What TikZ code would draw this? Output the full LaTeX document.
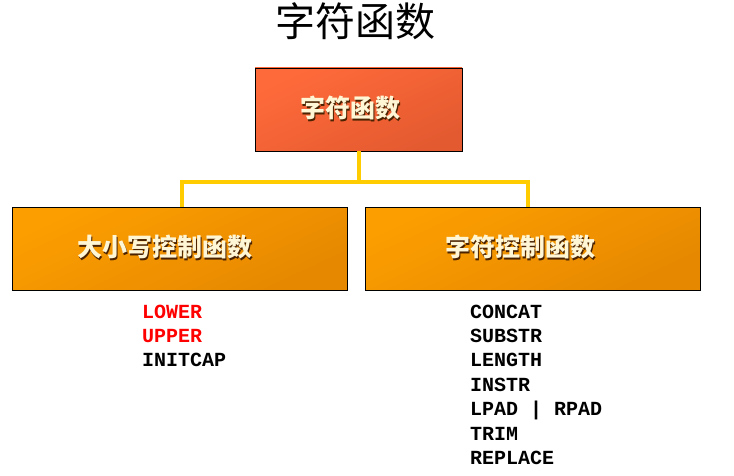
\documentclass[tikz,border=0pt]{standalone}
\usepackage{fontspec}
\setmonofont{Liberation Mono}
\newfontfamily\cjk{Noto Sans CJK SC}
\usetikzlibrary{positioning}

\definecolor{redtop}{HTML}{FF6A3A}
\definecolor{redbot}{HTML}{E45A30}
\definecolor{orangetop}{HTML}{FC9E00}
\definecolor{orangebot}{HTML}{E68800}
\definecolor{busyellow}{HTML}{FFCC00}
\definecolor{cream}{HTML}{FFF6D6}
\definecolor{shadowbrown}{HTML}{4A2200}

\newcommand{\embossed}[1]{\makebox[0pt][l]{\hspace{1.3pt}\raisebox{-1.3pt}{\color{shadowbrown}#1}}{\color{cream}#1}}

\tikzset{
  fnbox/.style={draw=black, line width=0.8pt, minimum height=83pt, inner sep=0pt},
  headbox/.style={fnbox, top color=redtop, bottom color=redbot, shading angle=25, minimum width=207pt},
  groupbox/.style={fnbox, top color=orangetop, bottom color=orangebot, shading angle=25, minimum width=335pt},
  boxtext/.style={font=\cjk\bfseries\fontsize{25}{28}\selectfont, inner sep=0pt},
  link/.style={draw=busyellow, line width=4pt},
  fnlist/.style={anchor=north west, align=left, inner sep=0pt,
    font=\ttfamily\bfseries\fontsize{20}{24.4}\selectfont}
}

\begin{document}
\begin{tikzpicture}[x=1pt, y=-1pt]
  \useasboundingbox (0,0) rectangle (734,476);

  \node[font=\cjk\fontsize{40}{44}\selectfont, inner sep=0pt] (title) at (355,21) {字符函数};

  % boxes
  \node[headbox] (top) at (358.5,109.5) {};
  \node[groupbox] (lower) at (180,249) {};
  \node[groupbox] (upper) at (532.5,249) {};
  \node[boxtext] (toptext) at (350,109) {\embossed{字符函数}};
  \node[boxtext] (lowertext) at (165,248) {\embossed{大小写控制函数}};
  \node[boxtext] (uppertext) at (520,248) {\embossed{字符控制函数}};

  % yellow bus
  \coordinate (bus) at (top.south |- 0,182);
  \draw[link] (top.south) -- (bus);
  \draw[link] ([xshift=2pt]lower.north) |- (bus) -| ([xshift=-4.5pt]upper.north);

  % function names
  \node[fnlist] (caselist) at (142,304.5) {\textcolor{red}{LOWER}\\\textcolor{red}{UPPER}\\INITCAP};
  \node[fnlist] (charlist) at (470,304.5) {CONCAT\\SUBSTR\\LENGTH\\INSTR\\LPAD | RPAD\\TRIM\\REPLACE};
\end{tikzpicture}
\end{document}
